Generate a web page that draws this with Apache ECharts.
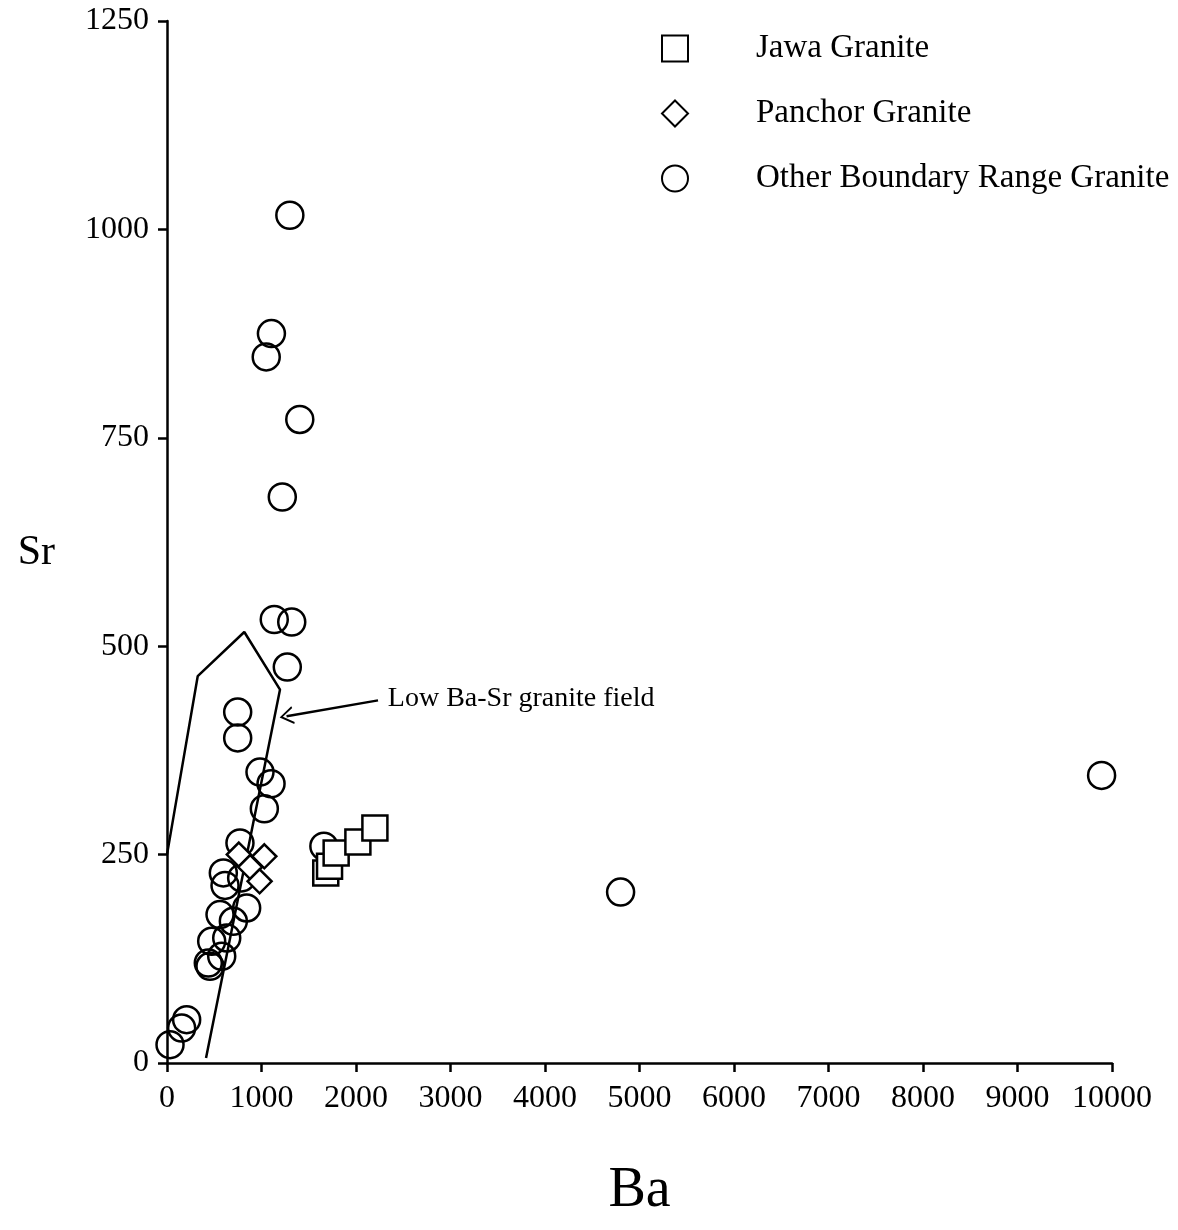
<!DOCTYPE html>
<html>
<head>
<meta charset="utf-8">
<title>Ba vs Sr</title>
<script src="https://cdn.jsdelivr.net/npm/echarts@6/dist/echarts.min.js"></script>
<style>
  html, body { margin: 0; padding: 0; background: #fff; }
  #chart { width: 1178px; height: 1230px; }
</style>
</head>
<body>
<div id="chart"></div>
<script>
// Ba (x) vs Sr (y) per sample
const jawaGranite = [
  [1680, 228], [1720, 236], [1790, 252], [2020, 265], [2200, 282]
]
const panchorGranite = [
  [760, 250], [1030, 248], [880, 235], [980, 218]
]
const otherGranite = [
  [1300, 1017], [1105, 875], [1050, 847], [1405, 772], [1220, 679],
  [1135, 532], [1320, 529], [1273, 475], [748, 421], [748, 390],
  [984, 349], [1101, 335], [1030, 305], [772, 264], [790, 222],
  [596, 228], [614, 213], [843, 186], [561, 178], [702, 170],
  [632, 150], [473, 146], [579, 128], [437, 120], [455, 116],
  [208, 52], [155, 42], [32, 22], [1660, 260], [4800, 205], [9890, 345]
]
// outline of the low Ba-Sr granite field
const fieldOutline = [
  [0, 250], [325, 464], [818, 517], [1196, 448], [413, 6]
]
// arrow from label to the field
const arrowFrom = [2233, 435]
const arrowTo = [1265, 416]
const xTicks = { min: 0, max: 10000, interval: 1000 }
const yTicks = { min: 0, max: 1250, interval: 250 }

const font = '"Liberation Serif", "Times New Roman", serif'
const chart = echarts.init(document.getElementById('chart'))

const axisCommon = {
  axisLine: { show: true, onZero: false, lineStyle: { color: '#000', width: 2.5 } },
  axisTick: { show: true, length: 9, lineStyle: { color: '#000', width: 2.5 } },
  splitLine: { show: false },
  axisLabel: {
    color: '#000',
    fontSize: 32,
    fontFamily: font,
    // plain numbers, no thousands separator
    formatter: v => String(v)
  }
}

chart.setOption({
  animation: false,
  backgroundColor: '#fff',
  grid: { left: 167, right: 66, top: 21, bottom: 167, outerBoundsMode: 'none' },

  legend: {
    orient: 'vertical',
    left: 656,
    top: 27,
    itemWidth: 26,
    itemHeight: 26,
    itemGap: 32,
    textStyle: {
      color: '#000',
      fontSize: 33,
      lineHeight: 33,
      fontFamily: font,
      padding: [0, 0, 0, 63]
    },
    data: ['Jawa Granite', 'Panchor Granite', 'Other Boundary Range Granite']
  },

  xAxis: {
    type: 'value',
    ...xTicks,
    name: 'Ba',
    nameLocation: 'middle',
    nameGap: 100,
    nameTextStyle: { color: '#000', fontSize: 56, fontFamily: font },
    ...axisCommon,
    axisLabel: { ...axisCommon.axisLabel, margin: 20 }
  },
  yAxis: {
    type: 'value',
    ...yTicks,
    name: 'Sr',
    nameLocation: 'middle',
    nameRotate: 0,
    nameGap: 112,
    nameTextStyle: {
      color: '#000',
      fontSize: 42,
      fontFamily: font,
      verticalAlign: 'top',
      lineHeight: 22
    },
    ...axisCommon,
    axisLabel: { ...axisCommon.axisLabel, margin: 18 }
  },

  series: [
    {
      name: 'field',
      type: 'line',
      data: fieldOutline,
      symbol: 'none',
      lineStyle: { color: '#000', width: 2.5 },
      z: 1,
      markLine: {
        silent: true,
        symbol: ['none', 'path://M0,0 L10,20 L8,21 L0,5 L-8,21 L-10,20 Z'],
        symbolSize: [18, 14],
        lineStyle: { color: '#000', width: 2.5, type: 'solid' },
        label: {
          show: true,
          position: 'start',
          distance: 10,
          formatter: 'Low Ba-Sr granite field',
          color: '#000',
          fontSize: 28,
          fontFamily: font
        },
        data: [[{ coord: arrowFrom }, { coord: arrowTo }]]
      }
    },
    {
      name: 'Other Boundary Range Granite',
      type: 'scatter',
      symbol: 'circle',
      symbolSize: 27,
      data: otherGranite,
      itemStyle: { color: 'rgba(255,255,255,0)', borderColor: '#000', borderWidth: 2.5, opacity: 1 },
      z: 2
    },
    {
      name: 'Panchor Granite',
      type: 'scatter',
      symbol: 'diamond',
      symbolSize: 24,
      data: panchorGranite,
      itemStyle: { color: '#fff', borderColor: '#000', borderWidth: 2.5, opacity: 1 },
      z: 3
    },
    {
      name: 'Jawa Granite',
      type: 'scatter',
      symbol: 'rect',
      symbolSize: 25,
      data: jawaGranite,
      itemStyle: { color: '#fff', borderColor: '#000', borderWidth: 2.5, opacity: 1 },
      z: 4
    }
  ]
})
</script>
</body>
</html>
